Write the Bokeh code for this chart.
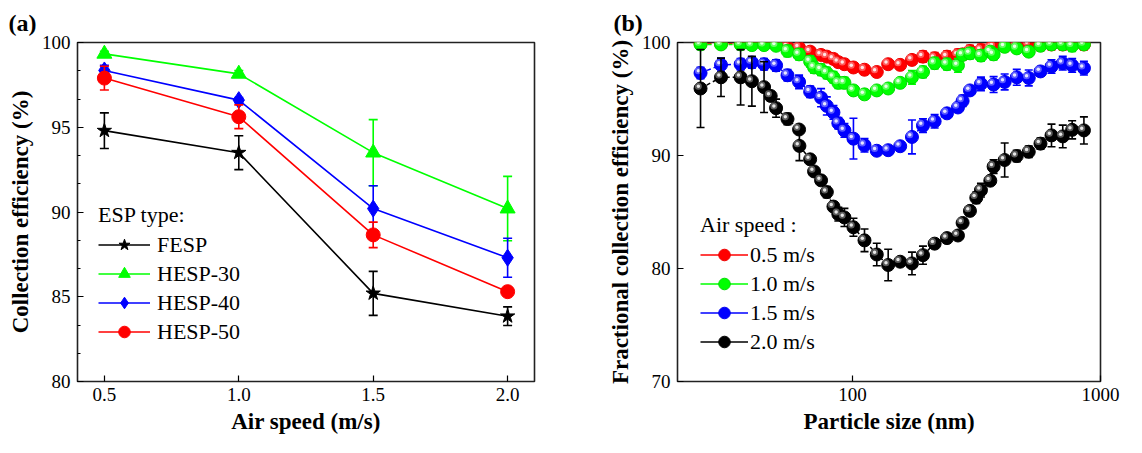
import math
from bokeh.plotting import figure
from bokeh.models import (ColumnDataSource, Legend, LegendItem, FixedTicker,
                          PrintfTickFormatter, Range1d)
from bokeh.layouts import row
from bokeh.embed import file_html
from bokeh.resources import INLINE

# ---------------- Panel (a) data ----------------
air_speed = [0.5, 1.0, 1.5, 2.0]
fesp = [94.8, 93.5, 85.2, 83.85]
fesp_err = [1.05, 1.0, 1.3, 0.55]
hesp30 = [99.33, 98.15, 93.5, 90.2]
hesp30_err = [0.15, 0.2, 1.95, 1.9]
hesp40 = [98.35, 96.6, 90.2, 87.3]
hesp40_err = [0.3, 0.15, 1.35, 1.15]
hesp50 = [97.9, 95.62, 88.65, 85.3]
hesp50_err = [0.7, 0.7, 0.75, 0.2]
a_xticks = [0.5, 1.0, 1.5, 2.0]
a_yticks = [80, 85, 90, 95, 100]

# ---------------- Panel (b) data ----------------
size_20 = [24.4, 29.5, 35.4, 39.3, 44.0, 46.8, 49.2, 54.7, 60.9, 61.1, 67.5, 70.0,
           74.7, 78.8, 83.8, 87.7, 92.8, 100.9, 111.8, 125.3, 139.3, 155.7, 173.7,
           192.4, 214.4, 240.4, 266.2, 278.0, 297.6, 315.6, 329.6, 359.5, 370.7,
           410.8, 459.6, 513.7, 572.8, 634.5, 704.4, 768.6, 857.3]
eff_20 = [95.93, 96.92, 96.92, 96.57, 96.05, 95.27, 94.19, 93.23, 92.30, 90.85, 89.66,
          88.59, 87.80, 86.76, 85.48, 84.81, 84.52, 83.65, 82.49, 81.24, 80.31, 80.60,
          80.45, 81.18, 82.20, 82.69, 82.92, 84.03, 85.10, 86.26, 86.93, 87.77, 89.02,
          89.60, 89.95, 90.33, 91.05, 91.78, 91.69, 92.27, 92.22]
err_20 = [3.45, 1.7, 2.45, 2.2, 2.25, 0.4, 0.8, 0.5, 0.3, 1.3, 0.3, 0.4, 0.4, 0.5,
          0.4, 0.6, 0.8, 0.8, 1.0, 1.0, 1.4, 0.3, 1.0, 0.8, 0.3, 0.3, 0.3, 0.3, 0.4,
          0.5, 0.6, 0.4, 0.6, 1.5, 0.5, 0.5, 0.5, 1.0, 1.0, 0.8, 1.2]

size_15 = [24.4, 29.5, 35.4, 39.3, 44.0, 49.2, 54.7, 60.9, 67.5, 74.7, 78.8, 83.8,
           87.7, 92.8, 100.9, 111.8, 125.3, 139.3, 155.7, 173.7, 192.4, 214.4, 240.4,
           266.2, 278.0, 297.6, 329.6, 370.7, 410.8, 459.6, 513.7, 572.8, 634.5,
           704.4, 768.6, 857.3]
eff_15 = [97.30, 98.02, 98.08, 98.23, 98.08, 97.97, 97.10, 96.51, 95.64, 95.12, 94.39,
          93.81, 92.86, 92.22, 91.49, 90.91, 90.42, 90.47, 90.82, 91.64, 92.65, 93.03,
          93.73, 94.25, 94.83, 95.76, 96.34, 96.28, 96.51, 96.92, 96.86, 97.44, 97.88,
          98.17, 97.97, 97.73]
err_15 = [0.5, 0.6, 0.5, 0.5, 0.5, 0.5, 0.5, 0.6, 0.5, 0.8, 0.8, 0.6, 0.5, 0.6, 1.8,
          0.6, 0.4, 0.2, 0.4, 1.5, 0.6, 0.6, 0.2, 0.4, 0.5, 0.4, 0.6, 0.7, 0.7, 0.7,
          0.7, 0.4, 0.6, 0.6, 0.6, 0.6]

size_10 = [24.4, 29.5, 35.4, 39.3, 44.0, 49.2, 54.7, 60.9, 67.5, 70.0, 74.7, 78.8,
           83.8, 87.7, 92.8, 100.9, 111.8, 125.3, 139.3, 155.7, 173.7, 192.4, 214.4,
           240.4, 266.2, 278.0, 297.6, 329.6, 359.5, 370.7, 410.8, 459.6, 513.7,
           572.8, 634.5, 704.4, 768.6, 857.3]
eff_10 = [99.83, 99.83, 99.83, 99.77, 99.77, 99.71, 99.25, 98.95, 98.32, 97.79, 97.59,
          97.30, 96.92, 96.43, 96.43, 95.76, 95.41, 95.76, 95.93, 96.43, 96.92, 97.39,
          98.17, 98.08, 97.97, 98.90, 99.04, 98.84, 99.19, 98.95, 99.62, 99.48, 99.19,
          99.71, 99.83, 99.83, 99.71, 99.83]
err_10 = [0.4, 0.4, 0.4, 0.4, 0.4, 0.4, 0.5, 0.5, 0.5, 0.5, 0.5, 0.5, 0.5, 0.5, 0.5,
          0.4, 0.3, 0.3, 0.4, 0.4, 0.6, 0.5, 0.5, 0.5, 0.6, 0.4, 0.5, 0.5, 0.4, 0.5,
          0.4, 0.4, 0.4, 0.4, 0.4, 0.4, 0.5, 0.4]

size_05 = [24.4, 29.5, 35.4, 39.3, 44.0, 49.2, 54.7, 60.9, 67.5, 74.7, 78.8, 83.8,
           87.7, 92.8, 100.9, 111.8, 125.3, 139.3, 155.7, 173.7, 192.4, 214.4, 240.4,
           266.2, 278.0, 297.6, 329.6, 359.5, 370.7, 410.8, 459.6, 513.7, 572.8,
           634.5, 704.4, 768.6, 857.3]
eff_05 = [99.9, 99.9, 99.9, 99.9, 99.85, 99.8, 99.62, 99.54, 99.19, 98.90, 98.75,
          98.55, 98.26, 98.08, 97.79, 97.59, 97.39, 98.08, 98.02, 98.46, 98.75, 98.61,
          98.75, 98.90, 98.95, 99.25, 99.33, 99.48, 99.62, 99.71, 99.77, 99.83, 99.77,
          99.83, 99.83, 99.83, 99.83]
err_05 = [0.3, 0.3, 0.3, 0.3, 0.3, 0.4, 0.4, 0.4, 0.4, 0.4, 0.4, 0.4, 0.4, 0.4, 0.3,
          0.3, 0.3, 0.3, 0.3, 0.4, 0.5, 0.5, 0.5, 0.5, 0.5, 0.5, 0.5, 0.5, 0.5, 0.5,
          0.5, 0.5, 0.5, 0.5, 0.5, 0.5, 0.5]
b_xticks = [100, 1000]
b_yticks = [70, 80, 90, 100]

FONT = "Liberation Serif"

# ---------------- layout constants ----------------
H = 437
TOP, FRAME_H, BOT = 39, 342, 56
A_W, A_L, A_R = 580, 77, 46
B_W, B_L, B_R = 546, 97, 26
B_XR = (19.7, 1000)


def style_axes(p):
    for ax in (p.xaxis[0], p.yaxis[0]):
        ax.axis_line_color = None
        ax.major_tick_in = 6
        ax.major_tick_out = 0
        ax.minor_tick_in = 3
        ax.minor_tick_out = 0
        ax.major_tick_line_color = "black"
        ax.major_tick_line_width = 1.2
        ax.minor_tick_line_width = 1.2
        ax.major_label_text_font = FONT
        ax.major_label_text_font_size = "19px"
        ax.major_label_text_color = "black"
        ax.axis_label_text_font = FONT
        ax.axis_label_text_font_size = "23px"
        ax.axis_label_text_font_style = "bold"
        ax.axis_label_text_color = "black"
    p.xaxis.major_label_standoff = 6
    p.yaxis.major_label_standoff = 7
    p.xaxis.axis_label_standoff = 5
    p.yaxis.axis_label_standoff = 6
    p.xgrid.visible = False
    p.ygrid.visible = False
    p.outline_line_color = "#222222"
    p.outline_line_width = 1.6


def panel_title(p, text, offset):
    p.title.text = text
    p.title.align = "left"
    p.title.offset = offset
    p.title.standoff = 14
    p.title.vertical_align = "bottom"
    p.title.text_font = FONT
    p.title.text_font_size = "24px"
    p.title.text_font_style = "bold"
    p.title.text_color = "black"


def legend_common(items, loc, title, gw, gh, standoff, spacing, tstand):
    return Legend(items=items, location=loc, title=title,
                  title_text_font=FONT, title_text_font_size="22px",
                  title_text_font_style="normal", title_text_color="black",
                  title_standoff=tstand,
                  label_text_font=FONT, label_text_font_size="22px",
                  label_text_color="black",
                  glyph_width=gw, glyph_height=gh, label_standoff=standoff,
                  spacing=spacing, padding=0, margin=0,
                  background_fill_alpha=0, border_line_color=None)


# ================= Panel (a) =================
pa = figure(width=A_W, height=H, output_backend="svg", toolbar_location=None,
            x_range=Range1d(0.4, 2.1), y_range=Range1d(80, 100),
            min_border_left=A_L, min_border_right=A_R,
            min_border_top=TOP, min_border_bottom=BOT)
style_axes(pa)
panel_title(pa, "(a)", -69)
pa.xaxis.ticker = FixedTicker(ticks=a_xticks)
pa.xaxis.formatter = PrintfTickFormatter(format="%.1f")
pa.xaxis.minor_tick_in = 0
pa.yaxis.ticker = FixedTicker(ticks=a_yticks,
                              minor_ticks=[80 + i * 5 / 3 for i in range(13)])
pa.xaxis.axis_label = "Air speed (m/s)"
pa.yaxis.axis_label = "Collection efficiency (%)"

series_a = [
    ("FESP", fesp, fesp_err, "black", "star", 15),
    ("HESP-30", hesp30, hesp30_err, "#00ff00", "triangle", 15),
    ("HESP-40", hesp40, hesp40_err, "#0000ff", "diamond", 17),
    ("HESP-50", hesp50, hesp50_err, "#ff0000", "circle", 14),
]
items_a = []
for name, ys, es, col, mk, sz in series_a:
    src = ColumnDataSource(dict(x=air_speed, y=ys,
                                lo=[y - e for y, e in zip(ys, es)],
                                hi=[y + e for y, e in zip(ys, es)]))
    pa.segment("x", "lo", "x", "hi", source=src, line_color=col, line_width=1.6)
    pa.scatter("x", "lo", source=src, marker="dash", size=9, line_color=col, line_width=1.6)
    pa.scatter("x", "hi", source=src, marker="dash", size=9, line_color=col, line_width=1.6)
    lr = pa.line("x", "y", source=src, line_color=col, line_width=1.6)
    mr = pa.scatter("x", "y", source=src, marker=mk, size=sz, fill_color=col,
                    line_color=col, line_width=1)
    items_a.append(LegendItem(label=name, renderers=[lr, mr]))

pa.add_layout(legend_common(items_a, (21, 35), "ESP type:", 52, 29, 7, 0, 2))

# ================= Panel (b) =================
pb = figure(width=B_W, height=H, output_backend="svg", toolbar_location=None,
            x_axis_type="log", x_range=Range1d(*B_XR), y_range=Range1d(70, 100),
            min_border_left=B_L, min_border_right=B_R,
            min_border_top=TOP, min_border_bottom=BOT)
style_axes(pb)
panel_title(pb, "(b)", -64)
pb.xaxis.ticker = FixedTicker(ticks=b_xticks, minor_ticks=[])
pb.xaxis.formatter = PrintfTickFormatter(format="%d")
pb.yaxis.ticker = FixedTicker(ticks=b_yticks, minor_ticks=[])
pb.xaxis.axis_label = "Particle size (nm)"
pb.yaxis.axis_label = "Fractional collection efficiency (%)"

frame_w_b = B_W - B_L - B_R
px_per_dec = frame_w_b / math.log10(B_XR[1] / B_XR[0])
px_per_unit = FRAME_H / 30.0
hx = 10 ** (-2.2 / px_per_dec)
hy = 2.2 / px_per_unit

series_b = [
    ("0.5 m/s", size_05, eff_05, err_05, "#ff0000", "#ee0000", "#ffc8c8"),
    ("1.0 m/s", size_10, eff_10, err_10, "#00ff00", "#00dd00", "#d8ffd8"),
    ("1.5 m/s", size_15, eff_15, err_15, "#0000ff", "#0000ee", "#c8c8ff"),
    ("2.0 m/s", size_20, eff_20, err_20, "black", "black", "#c8c8c8"),
]
items_b = []
for name, xs, ys, es, col, edge, hl in series_b:
    src = ColumnDataSource(dict(x=xs, y=ys,
                                lo=[y - e for y, e in zip(ys, es)],
                                hi=[y + e for y, e in zip(ys, es)],
                                hx=[x * hx for x in xs],
                                hyy=[y + hy for y in ys]))
    pb.line("x", "y", source=src, line_color=col, line_width=1.5, line_dash="4 3")
    pb.segment("x", "lo", "x", "hi", source=src, line_color=col, line_width=1.6)
    pb.scatter("x", "lo", source=src, marker="dash", size=8, line_color=col, line_width=1.6)
    pb.scatter("x", "hi", source=src, marker="dash", size=8, line_color=col, line_width=1.6)
    pb.scatter("x", "y", source=src, marker="circle", size=13, fill_color=col,
               line_color=edge, line_width=1)
    pb.scatter("hx", "hyy", source=src, marker="circle", size=7, fill_color=hl,
               fill_alpha=0.45, line_color=None)
    pb.scatter("hx", "hyy", source=src, marker="circle", size=3.5, fill_color="white",
               fill_alpha=0.85, line_color=None)
    # legend-only renderers: solid line + ball, placed outside the visible ranges
    off = ColumnDataSource(dict(x=[1.0, 2.0], y=[0.0, 0.0]))
    l1 = pb.line("x", "y", source=off, line_color=col, line_width=1.6)
    l2 = pb.scatter("x", "y", source=off, marker="circle", size=13, fill_color=col,
                    line_color=edge)
    items_b.append(LegendItem(label=name, renderers=[l1, l2]))

pb.add_layout(legend_common(items_b, (23, 25), "Air speed :", 48, 29, 2, 0, 2))

layout = row(pa, pb)
open("out.html", "w").write(file_html(layout, INLINE))
